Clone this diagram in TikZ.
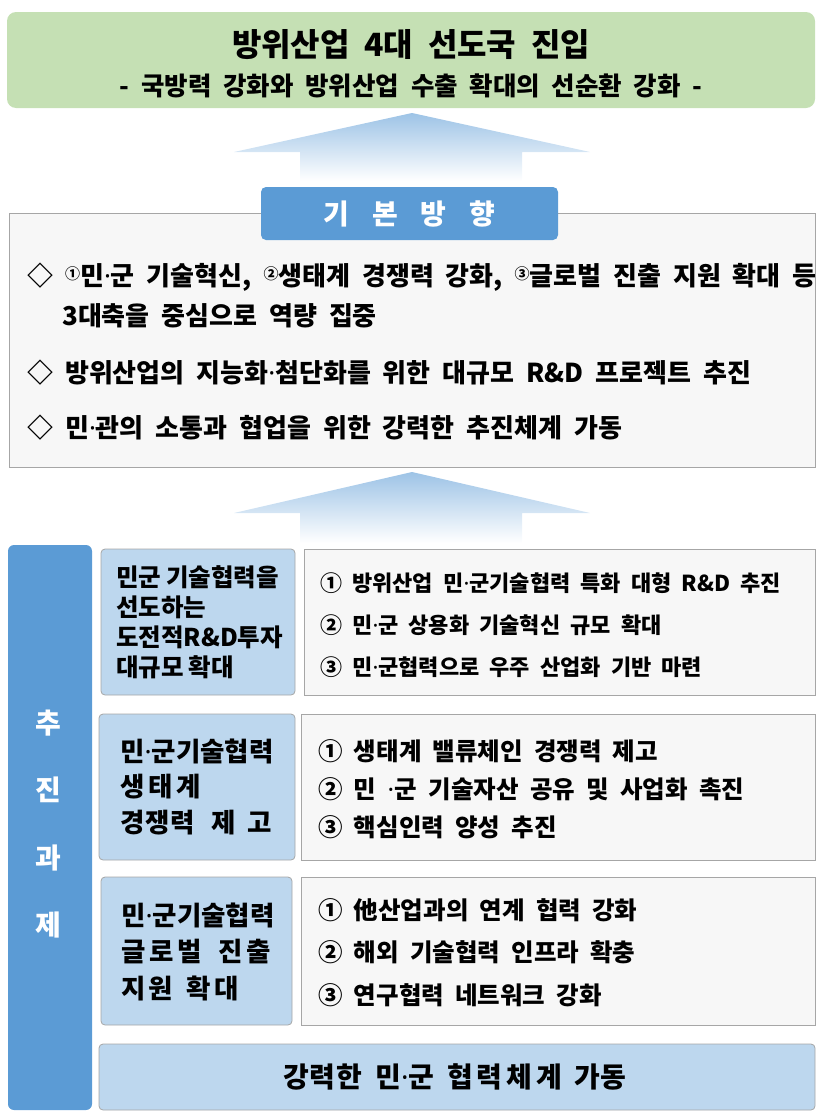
\documentclass[tikz,border=0pt]{standalone}
\usepackage{fontspec}
\setmainfont{Noto Sans CJK KR}[WordSpace=2]
\newfontfamily\dotfont{Noto Sans}
\newcommand{\md}{{\dotfont\bfseries ·}}
\definecolor{goalgreen}{HTML}{C5E0B4}
\definecolor{darkblue}{HTML}{5B9BD5}
\definecolor{lightblue}{HTML}{BDD7EE}
\definecolor{panelgray}{HTML}{F7F7F7}
\definecolor{bordergray}{HTML}{A6A6A6}
\definecolor{arrowblue}{HTML}{9DC3E6}
\begin{document}
\begin{tikzpicture}[x=1pt,y=-1pt,
  box/.style={anchor=north west,inner sep=0pt,outer sep=0pt},
  goalbox/.style={box,fill=goalgreen,rounded corners=9pt},
  panel/.style={box,fill=panelgray,draw=bordergray,line width=0.8pt},
  headbox/.style={box,fill=darkblue,rounded corners=5pt},
  sidebox/.style={box,fill=darkblue,rounded corners=6pt},
  catbox/.style={box,fill=lightblue,draw=bordergray,line width=0.8pt,rounded corners=4pt},
  txt/.style={anchor=west,inner sep=0pt,font=\bfseries\fontsize{26}{28}\selectfont},
  cattxt/.style={anchor=west,inner sep=0pt,font=\bfseries\fontsize{26.5}{28}\selectfont},
  cattxtA/.style={anchor=west,inner sep=0pt,font=\bfseries\fontsize{24.5}{26}\selectfont},
  itemtxtA/.style={anchor=west,inner sep=0pt,font=\bfseries\fontsize{22}{26}\selectfont},
  itemtxt/.style={anchor=west,inner sep=0pt,font=\bfseries\fontsize{24.5}{26}\selectfont},
  whitetxt/.style={inner sep=0pt,text=white,font=\bfseries\fontsize{28}{30}\selectfont},
  bigarrow/.style={top color=arrowblue,bottom color=white}
]
\useasboundingbox (0,0) rectangle (816,1111);

% goal
\node[goalbox,minimum width=808pt,minimum height=96pt] (goal) at (7,12) {};
\node[inner sep=0pt,font=\bfseries\fontsize{32}{34}\selectfont] (title) at (411,45) {방위산업 4대 선도국 진입};
\node[inner sep=0pt,font=\bfseries\fontsize{25.5}{28}\selectfont] (subtitle) at (411,86) {- 국방력 강화와 방위산업 수출 확대의 선순환 강화 -};

% arrow 1
\shade[bigarrow] (412,113) -- (590,152) -- (522,152) -- (522,181) -- (300,181) -- (300,152) -- (234,152) -- cycle;

% basic direction panel
\node[panel,minimum width=806pt,minimum height=254pt] (dirpanel) at (9,213) {};
\node[headbox,minimum width=297pt,minimum height=53pt] (dirhead) at (261,187) {};
\node[whitetxt] (dirheadtxt) at (dirhead.center) {기\hspace{23pt}본\hspace{23pt}방\hspace{23pt}향};

\node[txt] (b1a) at (27,277) {◇ \raisebox{6pt}{\fontsize{15}{15}\selectfont ①}민\md 군 기술혁신, \raisebox{6pt}{\fontsize{15}{15}\selectfont ②}생태계 경쟁력 강화, \raisebox{6pt}{\fontsize{15}{15}\selectfont ③}글로벌 진출 지원 확대 등};
\node[txt] (b1b) at (62,316) {3대축을 중심으로 역량 집중};
\node[txt] (b2) at (27,373) {◇ 방위산업의 지능화\md 첨단화를 위한 대규모 R\&D 프로젝트 추진};
\node[txt] (b3) at (27,428) {◇ 민\md 관의 소통과 협업을 위한 강력한 추진체계 가동};

% arrow 2
\shade[bigarrow] (412,472) -- (590,513) -- (522,513) -- (522,543) -- (300,543) -- (300,513) -- (234,513) -- cycle;

% side column
\node[sidebox,minimum width=84pt,minimum height=565pt] (side) at (8,545) {};
\node[whitetxt] (s1) at (48,723) {추};
\node[whitetxt] (s2) at (48,790) {진};
\node[whitetxt] (s3) at (48,858) {과};
\node[whitetxt] (s4) at (48,925) {제};

% row 1
\node[catbox,minimum width=194pt,minimum height=146pt] (c1) at (101,549) {};
\node[panel,minimum width=511pt,minimum height=146pt] (p1) at (304,549) {};
\node[cattxtA] (c1a) at (116,577) {민군\hspace{5pt}기술협력을};
\node[cattxtA] (c1b) at (116,607) {선도하는};
\node[cattxtA] (c1c) at (116,637) {도전적R\&D투자};
\node[cattxtA] (c1d) at (116,667) {대규모\hspace{5pt}확대};
\node[itemtxtA] (i1a) at (320,583) {① 방위산업 민\md 군기술협력 특화 대형 R\&D 추진};
\node[itemtxtA] (i1b) at (320,625) {② 민\md 군 상용화 기술혁신 규모 확대};
\node[itemtxtA] (i1c) at (320,667) {③ 민\md 군협력으로 우주 산업화 기반 마련};

% row 2
\node[catbox,minimum width=196pt,minimum height=146pt] (c2) at (99,714) {};
\node[panel,minimum width=514pt,minimum height=146pt] (p2) at (301,714) {};
\node[cattxt] (c2a) at (120,751) {민\md 군기술협력};
\node[cattxt] (c2b) at (120,787) {생\hspace{4pt}태\hspace{4pt}계};
\node[cattxt] (c2c) at (120,823) {경\hspace{1pt}쟁\hspace{1pt}력\hspace{16pt}제\hspace{12pt}고};
\node[itemtxt] (i2a) at (318,751) {① 생태계 밸류체인 경쟁력 제고};
\node[itemtxt] (i2b) at (318,789) {② 민 \md 군\hspace{12pt}기술자산 공유 및 사업화 촉진};
\node[itemtxt] (i2c) at (318,827) {③ 핵심인력 양성 추진};

% row 3
\node[catbox,minimum width=191pt,minimum height=148pt] (c3) at (101,877) {};
\node[panel,minimum width=514pt,minimum height=148pt] (p3) at (301,877) {};
\node[cattxt] (c3a) at (121,915) {민\md 군기술협력};
\node[cattxt] (c3b) at (121,952) {글\hspace{4pt}로\hspace{4pt}벌\hspace{16pt}진\hspace{4pt}출};
\node[cattxt] (c3c) at (121,988) {지\hspace{3pt}원\hspace{14pt}확\hspace{3pt}대};
\node[itemtxt] (i3a) at (318,910) {① 他산업과의 연계 협력 강화};
\node[itemtxt] (i3b) at (318,952) {② 해외 기술협력 인프라 확충};
\node[itemtxt] (i3c) at (318,995) {③ 연구협력 네트워크 강화};

% bottom
\node[catbox,minimum width=716pt,minimum height=66pt] (bottom) at (99,1044) {};
\node[inner sep=0pt,font=\bfseries\fontsize{28}{30}\selectfont] (bottomtxt) at (455,1077) {강\hspace{1pt}력\hspace{1pt}한 민\md 군 협\hspace{4pt}력\hspace{4pt}체\hspace{4pt}계\hspace{12pt}가\hspace{1pt}동};
\end{tikzpicture}
\end{document}
